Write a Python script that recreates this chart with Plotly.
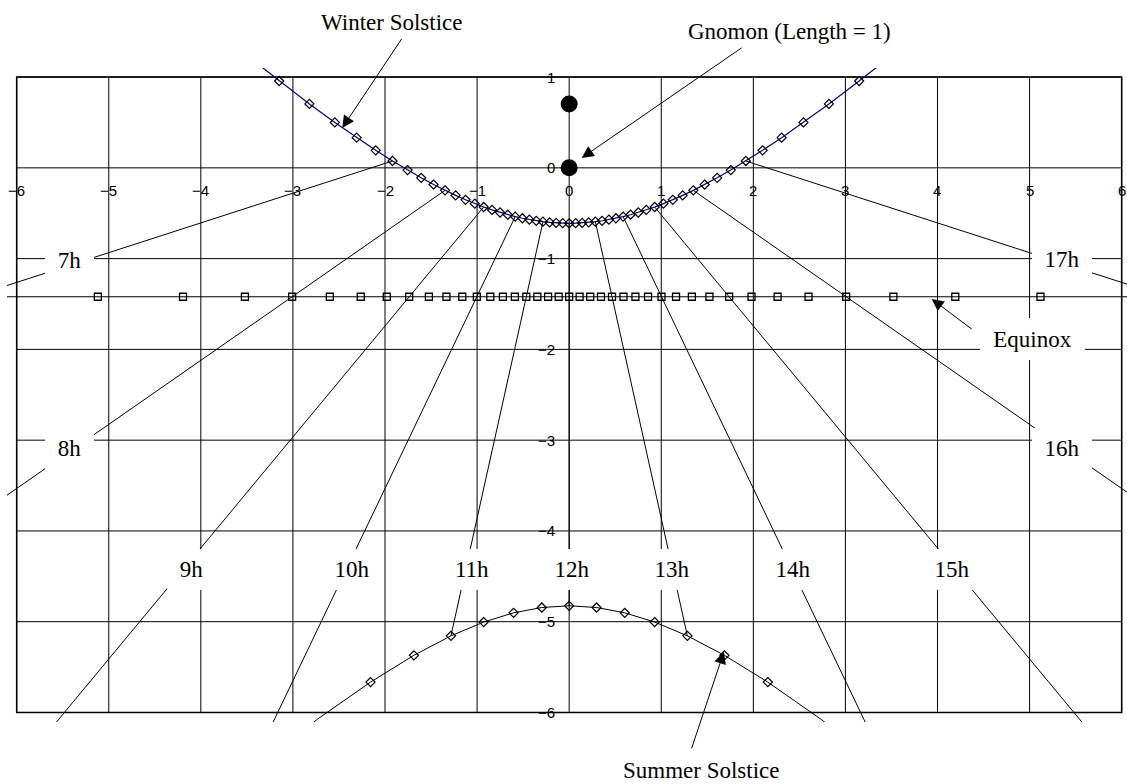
import plotly.graph_objects as go

# ---------------- data ----------------
x_ticks = [-6, -5, -4, -3, -2, -1, 0, 1, 2, 3, 4, 5, 6]
y_ticks = [1, 0, -1, -2, -3, -4, -5, -6]

# Winter solstice shadow-tip curve (one point every 15 minutes)
winter_x = [-3.5490, -3.1493, -2.8208, -2.5446, -2.3076, -2.1010, -1.9184, -1.7550, -1.6073,
            -1.4724, -1.3482, -1.2330, -1.1254, -1.0242, -0.9285, -0.8374, -0.7504, -0.6668,
            -0.5861, -0.5079, -0.4317, -0.3573, -0.2842, -0.2123, -0.1411, -0.0704, 0.0,
            0.0704, 0.1411, 0.2123, 0.2842, 0.3573, 0.4317, 0.5079, 0.5861, 0.6668, 0.7504,
            0.8374, 0.9285, 1.0242, 1.1254, 1.2330, 1.3482, 1.4724, 1.6073, 1.7550, 1.9184,
            2.1010, 2.3076, 2.5446, 2.8208, 3.1493, 3.5490]
winter_y = [1.2756, 0.9566, 0.7041, 0.5002, 0.3326, 0.1930, 0.0755, -0.0245, -0.1101,
            -0.1839, -0.2478, -0.3035, -0.3520, -0.3944, -0.4314, -0.4637, -0.4919, -0.5164,
            -0.5375, -0.5555, -0.5706, -0.5832, -0.5932, -0.6009, -0.6063, -0.6096, -0.6107,
            -0.6096, -0.6063, -0.6009, -0.5932, -0.5832, -0.5706, -0.5555, -0.5375, -0.5164,
            -0.4919, -0.4637, -0.4314, -0.3944, -0.3520, -0.3035, -0.2478, -0.1839, -0.1101,
            -0.0245, 0.0755, 0.1930, 0.3326, 0.5002, 0.7041, 0.9566, 1.2756]

# Equinox line
equinox_x = [-6.4825, -5.1184, -4.1934, -3.5212, -3.0085, -2.5995, -2.2636, -1.9807, -1.7370,
             -1.5233, -1.3328, -1.1606, -1.0028, -0.8566, -0.7195, -0.5896, -0.4654, -0.3455,
             -0.2287, -0.1138, 0.0, 0.1138, 0.2287, 0.3455, 0.4654, 0.5896, 0.7195, 0.8566,
             1.0028, 1.1606, 1.3328, 1.5233, 1.7370, 1.9807, 2.2636, 2.5995, 3.0085, 3.5212,
             4.1934, 5.1184, 6.4825]
equinox_y = [-1.4202] * 41

# Summer solstice curve
summer_x = [-3.4702, -2.7328, -2.1573, -1.6859, -1.2838, -0.9283, -0.6035, -0.2973, 0.0,
            0.2973, 0.6035, 0.9283, 1.2838, 1.6859, 2.1573, 2.7328, 3.4702]
summer_y = [-6.6470, -6.0735, -5.6657, -5.3702, -5.1559, -5.0038, -4.9021, -4.8437, -4.8246,
            -4.8437, -4.9021, -5.0038, -5.1559, -5.3702, -5.6657, -6.0735, -6.6470]

# Hour lines (start on winter curve, end on summer curve / beyond)
hour_labels = ["7h", "8h", "9h", "10h", "11h", "12h", "13h", "14h", "15h", "16h", "17h"]
hour_start_x = [-1.9184, -1.3482, -0.9285, -0.5861, -0.2842, 0.0, 0.2842, 0.5861, 0.9285, 1.3482, 1.9184]
hour_start_y = [0.0755, -0.2478, -0.4314, -0.5375, -0.5932, -0.6107, -0.5932, -0.5375, -0.4314, -0.2478, 0.0755]
hour_end_x = [-6.4825, -6.7409, -13.4455, -3.4702, -1.2838, 0.0, 1.2838, 3.4702, 13.4455, 6.7409, 6.4825]
hour_end_y = [-1.4202, -4.0557, -15.7400, -6.6470, -5.1559, -4.8246, -5.1559, -6.6470, -15.7400, -4.0557, -1.4202]

# Gnomon base and style foot
gnomon_x = [0.0, 0.0]
gnomon_y = [0.0, 0.7041]

# ---------------- figure ----------------
SERIF = "Liberation Serif, Times New Roman, serif"
SANS = "Liberation Sans, Arial, sans-serif"

xmin, xmax = min(x_ticks), max(x_ticks)
ymin, ymax = min(y_ticks), max(y_ticks)


def inside(xs, ys):
    px, py = [], []
    for a, b in zip(xs, ys):
        if xmin <= a <= xmax and ymin <= b <= ymax:
            px.append(a)
            py.append(b)
    return px, py


fig = go.Figure()

# hour lines
hx, hy = [], []
for sx, sy, ex, ey in zip(hour_start_x, hour_start_y, hour_end_x, hour_end_y):
    hx += [sx, ex, None]
    hy += [sy, ey, None]
fig.add_trace(go.Scatter(x=hx, y=hy, mode="lines", line=dict(color="black", width=1),
                         hoverinfo="skip"))

# equinox
fig.add_trace(go.Scatter(x=equinox_x, y=equinox_y, mode="lines",
                         line=dict(color="black", width=1), hoverinfo="skip"))
ex_, ey_ = inside(equinox_x, equinox_y)
fig.add_trace(go.Scatter(x=ex_, y=ey_, mode="markers",
                         marker=dict(symbol="square-open", size=7, color="black",
                                     line=dict(width=1.3)), hoverinfo="skip"))

# summer
fig.add_trace(go.Scatter(x=summer_x, y=summer_y, mode="lines",
                         line=dict(color="black", width=1), hoverinfo="skip"))
sx_, sy_ = inside(summer_x, summer_y)
fig.add_trace(go.Scatter(x=sx_, y=sy_, mode="markers",
                         marker=dict(symbol="diamond-open", size=7, color="black",
                                     line=dict(width=1.2)), hoverinfo="skip"))

# winter
fig.add_trace(go.Scatter(x=winter_x, y=winter_y, mode="lines",
                         line=dict(color="#000080", width=1.2), hoverinfo="skip"))
wx_, wy_ = inside(winter_x, winter_y)
fig.add_trace(go.Scatter(x=wx_, y=wy_, mode="markers",
                         marker=dict(symbol="diamond-open", size=7, color="black",
                                     line=dict(width=1.2)), hoverinfo="skip"))

# gnomon
fig.add_trace(go.Scatter(x=gnomon_x, y=gnomon_y, mode="markers",
                         marker=dict(symbol="circle", size=17, color="black"), hoverinfo="skip"))

# grid + border
shapes = []
for xv in x_ticks:
    shapes.append(dict(type="line", x0=xv, x1=xv, y0=ymin, y1=ymax, layer="below",
                       line=dict(color="black", width=1)))
for yv in y_ticks:
    shapes.append(dict(type="line", x0=xmin, x1=xmax, y0=yv, y1=yv, layer="below",
                       line=dict(color="black", width=1)))
shapes.append(dict(type="rect", x0=xmin, x1=xmax, y0=ymin, y1=ymax, layer="below",
                   line=dict(color="black", width=1.5)))

ann = []


def fmt(v):
    return str(v).replace("-", "\u2212")


for xv in x_ticks:
    ann.append(dict(x=xv, y=0, text=fmt(xv), showarrow=False, yshift=-23,
                    xanchor="center", yanchor="middle",
                    font=dict(family=SANS, size=15, color="black")))
for yv in y_ticks:
    ann.append(dict(x=0, y=yv, text=fmt(yv), showarrow=False, xshift=-12,
                    xanchor="right", yanchor="middle",
                    font=dict(family=SANS, size=15, color="black")))

# hour labels (white boxes that interrupt the lines)
hour_pos = [(-5.429, -1.018), (-5.429, -3.096), (-4.100, -4.430), (-2.362, -4.430),
            (-1.053, -4.430), (0.033, -4.430), (1.119, -4.430), (2.430, -4.430),
            (4.159, -4.430), (5.354, -3.096), (5.354, -1.013)]
for lab, (px, py) in zip(hour_labels, hour_pos):
    ann.append(dict(x=px, y=py, text=lab, showarrow=False, bgcolor="white",
                    width=49 if len(lab) == 2 else 60, height=41, borderpad=0, borderwidth=0,
                    xanchor="center", yanchor="middle",
                    font=dict(family=SERIF, size=23, color="black")))

# series titles
ann.append(dict(x=5.037, y=-1.883, text="Equinox", showarrow=False, bgcolor="white",
                width=105, height=42, borderpad=0, borderwidth=0,
                font=dict(family=SERIF, size=23, color="black")))
ann.append(dict(x=-1.928, y=1.0703, yref="paper", text="Winter Solstice", showarrow=False,
                xanchor="center", yanchor="middle",
                font=dict(family=SERIF, size=23, color="black")))
ann.append(dict(x=2.394, y=1.0558, yref="paper", text="Gnomon (Length = 1)", showarrow=False,
                xanchor="center", yanchor="middle",
                font=dict(family=SERIF, size=23, color="black")))
ann.append(dict(x=1.439, y=-0.0742, yref="paper", text="Summer Solstice", showarrow=False,
                xanchor="center", yanchor="middle",
                font=dict(family=SERIF, size=23, color="black")))

# callout arrows
arrows = [((-1.819, 1.421), (-2.464, 0.440)),
          ((1.873, 1.322), (0.136, 0.109)),
          ((4.371, -1.776), (3.937, -1.445)),
          ((1.330, -6.395), (1.681, -5.330))]
for (tx, ty), (hx_, hy_) in arrows:
    ann.append(dict(x=hx_, y=hy_, ax=tx, ay=ty, axref="x", ayref="y", text=" ",
                    showarrow=True, arrowhead=2, arrowsize=2.4, arrowwidth=1,
                    arrowcolor="black", standoff=0, borderpad=0, borderwidth=0,
                    font=dict(size=1)))

fig.update_layout(
    width=1127, height=784,
    margin=dict(l=7, r=0, t=68, b=62, pad=0),
    paper_bgcolor="white", plot_bgcolor="white",
    showlegend=False,
    xaxis=dict(range=[-6.105, 6.058], visible=False, fixedrange=True),
    yaxis=dict(range=[-6.105, 1.1], visible=False, fixedrange=True),
    shapes=shapes, annotations=ann,
)

fig.write_html("out.html", config={"displayModeBar": False},
               post_script="document.body.style.margin='0';document.body.style.overflow='hidden';")
